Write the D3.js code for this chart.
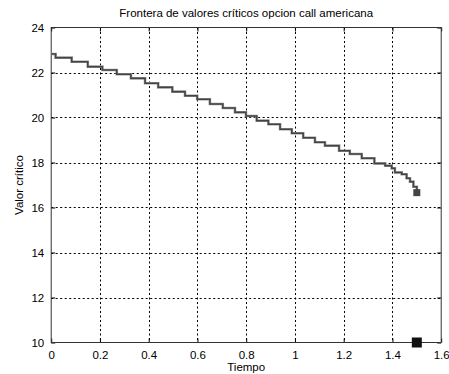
<!DOCTYPE html>
<html>
<head>
<meta charset="utf-8">
<script src="https://cdn.jsdelivr.net/npm/d3@7"></script>
<style>
  html, body { margin: 0; padding: 0; background: #fff; }
  svg { display: block; }
  text { font-family: "Liberation Sans", Arial, Helvetica, sans-serif; fill: #000; }
</style>
</head>
<body>
<svg id="chart" width="449" height="374"></svg>
<script>
// ---- data ----
const title = "Frontera de valores críticos opcion call americana";
const xLabel = "Tiempo";
const yLabel = "Valor crítico";
const xTicks = [0, 0.2, 0.4, 0.6, 0.8, 1, 1.2, 1.4, 1.6];
const yTicks = [10, 12, 14, 16, 18, 20, 22, 24];
// step boundary: time at which each level starts, and the critical value
const boundaryTime = [0, 0.018, 0.084, 0.150, 0.210, 0.269, 0.327, 0.385, 0.439, 0.497,
  0.549, 0.599, 0.651, 0.704, 0.754, 0.799, 0.843, 0.891, 0.939, 0.987,
  1.034, 1.082, 1.123, 1.181, 1.225, 1.274, 1.326, 1.370, 1.397, 1.410,
  1.438, 1.458, 1.472, 1.486, 1.5];
const boundaryValue = [22.82, 22.66, 22.48, 22.26, 22.11, 21.92, 21.74, 21.52, 21.34, 21.15,
  20.97, 20.81, 20.60, 20.42, 20.23, 20.07, 19.86, 19.70, 19.48, 19.30,
  19.10, 18.90, 18.75, 18.52, 18.38, 18.19, 17.96, 17.86, 17.74, 17.56,
  17.48, 17.30, 17.15, 16.92, 16.66];
const endPoint = [1.5, 16.66];     // small marker at the end of the frontier
const strikeMarker = [1.5, 10];    // large black marker on the time axis

// ---- layout ----
const svg = d3.select("#chart");
const L = 51.2, R = 441.2, T = 27.5, B = 342.5;
const x = d3.scaleLinear().domain([0, 1.6]).range([L, R]);
const y = d3.scaleLinear().domain([10, 24]).range([B, T]);

// grid
const grid = svg.append("g").attr("stroke", "#000").attr("stroke-width", 1)
  .attr("stroke-dasharray", "2,2.5");
xTicks.slice(1, -1).forEach(t => {
  grid.append("line").attr("x1", Math.round(x(t)) + 0.5).attr("x2", Math.round(x(t)) + 0.5)
    .attr("y1", T).attr("y2", B);
});
yTicks.slice(1, -1).forEach(t => {
  grid.append("line").attr("y1", Math.round(y(t)) + 0.5).attr("y2", Math.round(y(t)) + 0.5)
    .attr("x1", L).attr("x2", R);
});

// axes (inward ticks, MATLAB style)
const tickLen = 4;
const axB = d3.axisBottom(x).tickValues(xTicks).tickSizeInner(-tickLen).tickSizeOuter(0).tickPadding(8)
  .tickFormat(d => d3.format("")(+d.toFixed(1)));
const axT = d3.axisTop(x).tickValues(xTicks).tickSizeInner(-tickLen).tickSizeOuter(0).tickFormat("");
const axL = d3.axisLeft(y).tickValues(yTicks).tickSizeInner(-tickLen).tickSizeOuter(0).tickPadding(7);
const axR = d3.axisRight(y).tickValues(yTicks).tickSizeInner(-tickLen).tickSizeOuter(0).tickFormat("");

function styleAxis(g) {
  g.select(".domain").remove();
  g.selectAll("line").attr("stroke", "#000");
  g.selectAll("text").attr("font-size", 11.5).attr("font-family", "Liberation Sans, Arial, sans-serif");
}
svg.append("g").attr("transform", `translate(0,${B})`).call(axB).call(styleAxis);
svg.append("g").attr("transform", `translate(0,${T})`).call(axT).call(styleAxis);
svg.append("g").attr("transform", `translate(${L},0)`).call(axL).call(styleAxis);
svg.append("g").attr("transform", `translate(${R},0)`).call(axR).call(styleAxis);

// frame
svg.append("rect").attr("x", L).attr("y", T).attr("width", R - L).attr("height", B - T)
  .attr("fill", "none").attr("stroke", "#333").attr("stroke-width", 1);

// frontier line
const pts = boundaryTime.map((t, i) => [t, boundaryValue[i]]);
const line = d3.line().x(d => x(d[0])).y(d => y(d[1])).curve(d3.curveStepAfter);
svg.append("path").datum(pts).attr("d", line)
  .attr("fill", "none").attr("stroke", "#9a9a9a").attr("stroke-width", 2.6);
svg.append("path").datum(pts).attr("d", line)
  .attr("fill", "none").attr("stroke", "#444").attr("stroke-width", 1.5);

// markers
svg.append("rect").attr("x", x(endPoint[0]) - 3.5).attr("y", y(endPoint[1]) - 3.5)
  .attr("width", 7).attr("height", 7).attr("fill", "#444");
svg.append("rect").attr("x", x(strikeMarker[0]) - 5).attr("y", y(strikeMarker[1]) - 5)
  .attr("width", 10).attr("height", 10).attr("fill", "#111");

// labels
svg.append("text").attr("x", (L + R) / 2).attr("y", 17).attr("text-anchor", "middle")
  .attr("font-size", 11.5).text(title);
svg.append("text").attr("x", (L + R) / 2).attr("y", 371).attr("text-anchor", "middle")
  .attr("font-size", 11.5).text(xLabel);
svg.append("text").attr("transform", `translate(23,${(T + B) / 2}) rotate(-90)`)
  .attr("text-anchor", "middle").attr("font-size", 11.5).text(yLabel);
</script>
</body>
</html>
